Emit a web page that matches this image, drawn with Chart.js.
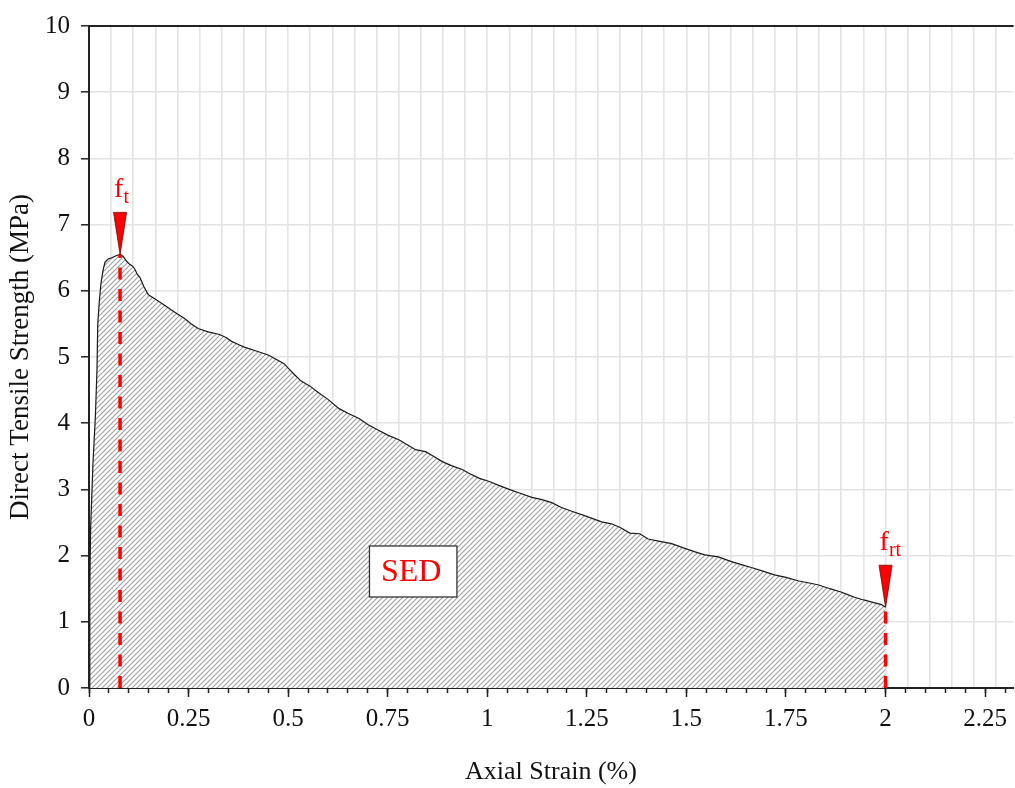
<!DOCTYPE html>
<html>
<head>
<meta charset="utf-8">
<script src="https://cdn.jsdelivr.net/npm/chart.js@4"></script>
<style>
  html, body { margin: 0; padding: 0; background: #fff; }
  #wrap { width: 1015px; height: 788px; }
</style>
</head>
<body>
<div id="wrap"><canvas id="grafico" width="1015" height="788"></canvas></div>
<script>
// curva tensão x deformação
const strain = [0, 0.002, 0.004, 0.01, 0.016, 0.02, 0.022, 0.026, 0.03, 0.035, 0.04, 0.048, 0.057, 0.068, 0.078,
  0.086, 0.094, 0.102, 0.108, 0.115, 0.121, 0.128, 0.138, 0.149, 0.165, 0.185, 0.207, 0.225, 0.24, 0.257, 0.274,
  0.299, 0.328, 0.345, 0.357, 0.375, 0.39, 0.42, 0.45, 0.474, 0.49, 0.499, 0.515, 0.532, 0.555, 0.574, 0.6, 0.628,
  0.65, 0.678, 0.7, 0.728, 0.75, 0.778, 0.8, 0.82, 0.845, 0.865, 0.887, 0.91, 0.937, 0.955, 0.979, 1.005, 1.029,
  1.055, 1.079, 1.112, 1.135, 1.162, 1.185, 1.212, 1.246, 1.287, 1.312, 1.335, 1.358, 1.383, 1.404, 1.43, 1.463,
  1.496, 1.52, 1.546, 1.58, 1.613, 1.64, 1.663, 1.69, 1.721, 1.75, 1.78, 1.805, 1.83, 1.86, 1.888, 1.905, 1.922,
  1.945, 1.971, 1.99, 2.0];
const stress = [0, 1.5, 2.4, 3.4, 4.1, 4.8, 5.5, 5.85, 6.11, 6.3, 6.43, 6.48, 6.5, 6.53, 6.55,
  6.52, 6.45, 6.4, 6.38, 6.33, 6.25, 6.2, 6.06, 5.94, 5.88, 5.8, 5.71, 5.64, 5.58, 5.5, 5.43,
  5.38, 5.34, 5.29, 5.24, 5.19, 5.15, 5.09, 5.03, 4.95, 4.9, 4.84, 4.74, 4.64, 4.56, 4.47, 4.36, 4.22,
  4.15, 4.07, 3.98, 3.89, 3.82, 3.75, 3.67, 3.6, 3.57, 3.5, 3.42, 3.36, 3.3, 3.24, 3.17, 3.12, 3.06,
  3.0, 2.95, 2.88, 2.85, 2.8, 2.73, 2.67, 2.6, 2.51, 2.48, 2.42, 2.34, 2.33, 2.25, 2.22, 2.18,
  2.11, 2.06, 2.01, 1.98, 1.91, 1.86, 1.82, 1.77, 1.71, 1.67, 1.62, 1.59, 1.56, 1.5, 1.45, 1.41, 1.37,
  1.33, 1.29, 1.26, 1.22];

// marcadores f_t e f_rt
const markerStrain = [0.078, 2.0];
const markerStress = [6.55, 1.22];
const markerMain = ["f", "f"];
const markerSub = ["t", "rt"];

// rótulo SED
const sedText = "SED";
const sedStrain = 0.814;
const sedStress = 1.76;

const xTickLabels = ["0", "0.25", "0.5", "0.75", "1", "1.25", "1.5", "1.75", "2", "2.25"];
const yTickLabels = ["0", "1", "2", "3", "4", "5", "6", "7", "8", "9", "10"];

const FONT = "'Liberation Serif', 'Times New Roman', serif";
const GRID = "#e3e3e3";
const INK = "#222";

function hachura() {
  const c = document.createElement("canvas");
  c.width = 5; c.height = 5;
  const g = c.getContext("2d");
  g.fillStyle = "#fff";
  g.fillRect(0, 0, 5, 5);
  g.strokeStyle = "#a2a2a2";
  g.lineWidth = 1.2;
  g.beginPath();
  g.moveTo(0, 5); g.lineTo(5, 0);
  g.moveTo(-1, 1); g.lineTo(1, -1);
  g.moveTo(4, 6); g.lineTo(6, 4);
  g.stroke();
  return g.createPattern(c, "repeat");
}

const anotacoes = {
  id: "anotacoes",
  afterDatasetsDraw(chart) {
    const ctx = chart.ctx;
    const xs = chart.scales.x, ys = chart.scales.y;
    ctx.save();
    for (let i = 0; i < markerStrain.length; i++) {
      const px = xs.getPixelForValue(markerStrain[i]);
      const py = ys.getPixelForValue(markerStress[i]);
      const y0 = ys.getPixelForValue(0);
      // linha tracejada
      ctx.strokeStyle = "#ff0000";
      ctx.lineWidth = 3.5;
      ctx.setLineDash([12, 9.5]);
      ctx.beginPath();
      ctx.moveTo(px, y0);
      ctx.lineTo(px, py);
      ctx.stroke();
      ctx.setLineDash([]);
      // triângulo
      ctx.fillStyle = "#ff0000";
      ctx.strokeStyle = "#7a0000";
      ctx.lineWidth = 0.8;
      ctx.beginPath();
      ctx.moveTo(px - 6.5, py - 42);
      ctx.lineTo(px + 6.5, py - 42);
      ctx.lineTo(px, py);
      ctx.closePath();
      ctx.fill();
      ctx.stroke();
      // rótulo
      ctx.fillStyle = "#ff0000";
      ctx.textAlign = "left";
      ctx.textBaseline = "alphabetic";
      ctx.font = "28px " + FONT;
      const lx = px - 6;
      ctx.fillText(markerMain[i], lx, py - 57);
      const w = ctx.measureText(markerMain[i]).width;
      ctx.font = "20px " + FONT;
      ctx.fillText(markerSub[i], lx + w, py - 51);
    }
    // caixa SED
    const cx = xs.getPixelForValue(sedStrain);
    const cy = ys.getPixelForValue(sedStress);
    ctx.font = "32px " + FONT;
    const tw = ctx.measureText(sedText).width;
    const bw = tw + 27, bh = 51;
    ctx.fillStyle = "#fff";
    ctx.fillRect(cx - bw / 2, cy - bh / 2, bw, bh);
    ctx.strokeStyle = "#333";
    ctx.lineWidth = 1.3;
    ctx.strokeRect(cx - bw / 2, cy - bh / 2, bw, bh);
    ctx.fillStyle = "#ff0000";
    ctx.textAlign = "center";
    ctx.textBaseline = "middle";
    ctx.fillText(sedText, cx - 2, cy + 1);
    ctx.restore();
  }
};

const ctx = document.getElementById("grafico").getContext("2d");

new Chart(ctx, {
  type: "line",
  data: {
    datasets: [{
      data: strain.map((s, i) => ({ x: s, y: stress[i] })),
      borderColor: "#1a1a1a",
      borderWidth: 1.2,
      backgroundColor: hachura(),
      fill: "origin",
      pointRadius: 0,
      tension: 0,
    }],
  },
  options: {
    responsive: false,
    animation: false,
    layout: { padding: { top: 17, right: 2, left: 0, bottom: 0 } },
    plugins: { legend: { display: false }, tooltip: { enabled: false } },
    scales: {
      xMinor: {
        type: "linear",
        position: "bottom",
        weight: 0,
        min: 0,
        max: 2.32,
        ticks: { display: false, stepSize: 0.05, includeBounds: false },
        grid: { drawOnChartArea: false, tickLength: 5, tickColor: INK, tickWidth: 1.5 },
        border: { display: false },
        afterFit(scale) { scale.height = 0; },
      },
      x: {
        type: "linear",
        position: "bottom",
        weight: 1,
        min: 0,
        max: 2.32,
        ticks: {
          stepSize: 0.25,
          includeBounds: false,
          autoSkip: false,
          maxRotation: 0,
          padding: 7,
          color: "#111",
          font: { family: FONT, size: 25 },
          callback: (v, i) => xTickLabels[i],
        },
        grid: { drawOnChartArea: false, tickLength: 9, tickColor: INK, tickWidth: 1.5 },
        border: { color: INK, width: 2 },
        title: {
          display: true,
          text: "Axial Strain (%)",
          color: "#111",
          font: { family: FONT, size: 26 },
          padding: { top: 0, bottom: 0 },
        },
        afterFit(scale) { scale.height = 100; },
      },
      xGrid: {
        type: "linear",
        position: "top",
        min: 0,
        max: 2.32,
        ticks: { display: false, stepSize: 1 / 18, includeBounds: false },
        grid: { color: GRID, lineWidth: 1.6, drawTicks: false },
        border: { color: INK, width: 2 },
        afterFit(scale) { scale.height = 0; },
      },
      y: {
        type: "linear",
        min: 0,
        max: 10,
        ticks: {
          stepSize: 1,
          padding: 11,
          color: "#111",
          font: { family: FONT, size: 25 },
          callback: (v, i) => yTickLabels[i],
        },
        grid: { color: GRID, lineWidth: 1.6, tickLength: 8, tickColor: INK, tickWidth: 1.5 },
        border: { color: INK, width: 2 },
        title: {
          display: true,
          text: "Direct Tensile Strength (MPa)",
          color: "#111",
          font: { family: FONT, size: 27 },
          padding: { top: 5, bottom: 0 },
        },
        afterFit(scale) { scale.width = 89; },
      },
    },
  },
  plugins: [anotacoes],
});
</script>
</body>
</html>
